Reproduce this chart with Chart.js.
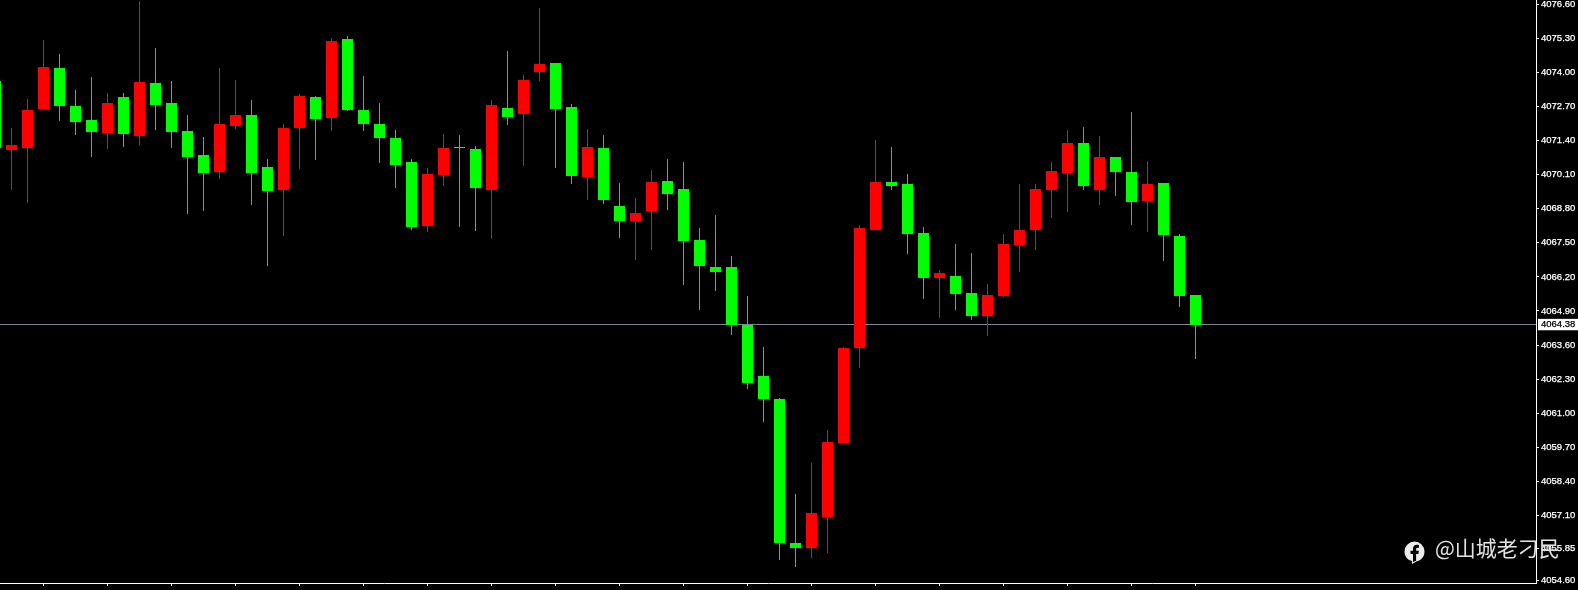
<!DOCTYPE html>
<html><head><meta charset="utf-8">
<style>
html,body{margin:0;padding:0;background:#000;width:1578px;height:590px;overflow:hidden}
#wrap{position:relative;width:1578px;height:590px}
canvas{display:block}
#mark{position:absolute;left:1435px;top:532px;font:400 21px "Noto Sans CJK SC";color:#e2e2e2;white-space:nowrap;line-height:30px}
#fb{position:absolute;left:1404px;top:541px}
</style>
<script src="https://cdn.jsdelivr.net/npm/chart.js@4"></script>
</head><body><div id="wrap"><canvas id="c" width="1578" height="590"></canvas>
<svg id="fb" width="21" height="24" viewBox="0 0 21 24"><path fill="#ececec" d="M10.5 0.5a10 10 0 0 1 10 10c0 5-3 8.700-7.500 9.800l-5 2.700v-2.900C3.200 19 0.500 15.200 0.500 10.500a10 10 0 0 1 10-10z"/><path fill="#000" d="M9 21v-8H6.500V9.800H9V7.700C9 5 10.600 3.700 13 3.700l2 .2v2.800h-1.400c-1.100 0-1.500.6-1.500 1.500v1.600h2.800l-.5 3.200h-2.300v6.800z"/></svg>
<div id="mark">@山城老刁民</div></div>
<script>
const opens=[4073.68,4071.06,4071.13,4072.61,4074.17,4072.72,4072.19,4071.69,4073.07,4071.58,4073.60,4072.84,4071.77,4070.85,4070.20,4071.96,4072.38,4070.40,4069.52,4071.88,4073.07,4072.27,4075.28,4072.57,4072.04,4071.50,4070.59,4068.14,4070.09,4071.16,4071.08,4069.52,4072.65,4072.42,4074.02,4074.37,4072.69,4070.01,4071.12,4068.91,4068.34,4068.72,4069.86,4069.56,4067.61,4066.58,4066.58,4064.37,4062.42,4061.54,4056.05,4055.85,4057.04,4059.86,4063.49,4067.99,4069.82,4069.75,4067.88,4066.16,4066.24,4065.59,4064.71,4065.47,4067.42,4067.99,4069.52,4070.17,4071.31,4069.52,4070.78,4070.20,4069.10,4069.79,4067.76,4065.51];
const highs=[4073.68,4071.88,4072.99,4075.24,4074.71,4073.33,4073.83,4073.22,4073.22,4076.73,4074.94,4073.68,4072.38,4071.54,4074.17,4073.72,4072.95,4070.70,4072.04,4073.18,4073.11,4075.32,4075.40,4073.87,4072.84,4071.81,4070.70,4070.36,4071.66,4071.62,4071.20,4072.95,4074.82,4073.91,4076.46,4074.37,4072.80,4071.85,4071.62,4069.79,4069.21,4070.28,4070.70,4070.59,4068.07,4068.56,4067.00,4065.47,4063.53,4061.58,4057.92,4059.10,4060.36,4063.53,4068.18,4071.43,4071.16,4070.13,4068.11,4066.47,4067.46,4067.11,4065.93,4067.84,4069.75,4069.75,4070.59,4071.81,4071.92,4071.58,4070.78,4072.50,4070.63,4069.79,4067.84,4065.51];
const lows=[4071.13,4069.52,4069.02,4072.61,4072.15,4071.62,4070.78,4071.08,4071.16,4071.24,4071.81,4071.12,4068.60,4068.72,4069.94,4071.85,4068.95,4066.62,4067.76,4070.32,4070.66,4071.77,4072.53,4071.77,4070.55,4069.59,4067.99,4067.91,4069.67,4068.11,4067.95,4067.65,4072.00,4070.43,4073.68,4070.36,4069.75,4069.14,4068.98,4067.69,4066.85,4067.23,4068.76,4065.89,4064.94,4065.66,4063.98,4061.92,4060.66,4055.40,4055.13,4055.47,4055.66,4059.86,4062.72,4067.99,4069.52,4067.08,4065.36,4064.63,4064.94,4064.56,4063.95,4065.43,4066.39,4067.23,4068.45,4068.68,4069.52,4068.95,4069.29,4068.18,4067.91,4066.81,4065.05,4063.07];
const closes=[4071.13,4071.23,4072.57,4074.21,4072.72,4072.11,4071.73,4072.84,4071.66,4073.64,4072.76,4071.73,4070.78,4070.17,4072.04,4072.38,4070.17,4069.48,4071.88,4073.11,4072.23,4075.21,4072.57,4072.04,4071.50,4070.47,4068.11,4070.13,4071.12,4071.12,4069.59,4072.76,4072.30,4073.72,4074.33,4072.61,4070.05,4071.16,4069.14,4068.34,4068.64,4069.82,4069.37,4067.57,4066.62,4066.39,4064.37,4062.15,4061.54,4056.05,4055.85,4057.19,4059.90,4063.49,4068.07,4069.82,4069.67,4067.84,4066.16,4066.35,4065.55,4064.71,4065.51,4067.46,4067.99,4069.56,4070.24,4071.31,4069.67,4070.78,4070.20,4069.06,4069.75,4067.80,4065.47,4064.38];
const bidPrice=4064.38;
const priceTicks=[4076.60,4075.30,4074.00,4072.70,4071.40,4070.10,4068.80,4067.50,4066.20,4064.90,4064.38,4063.60,4062.30,4061.00,4059.70,4058.40,4057.10,4055.85,4054.60];
const timeTickIndex=[-1.0,3,7,11,15,19,23,27,31,35,39,43,47,51,55,59,63,67,71,75];
const timeTickLabels=["21 Nov 2025","21 Nov     14:24","21 Nov     14:32","21 Nov     14:40","21 Nov     14:48","21 Nov     14:56","21 Nov     15:04","21 Nov     15:12","21 Nov     15:20","21 Nov     15:28","21 Nov     15:36","21 Nov     15:44","21 Nov     15:52","21 Nov     16:00","21 Nov     16:08","21 Nov     16:16","21 Nov     16:24","21 Nov     16:32","21 Nov     16:40","21 Nov     16:48"];
const UP='#ff0000',DOWN='#00ff00',WICK_UP='#e01414',WICK_DOWN='#28d828';
const isUp=i=>closes[i]>=opens[i];
const noMargins=s=>{s.paddingLeft=s.paddingRight=s.paddingTop=s.paddingBottom=0;s._margins={left:0,right:0,top:0,bottom:0}};
const snap={id:'snap',beforeDatasetsDraw(chart){
  chart.data.datasets.forEach((d,di)=>{
    const m=chart.getDatasetMeta(di);
    if(d.type==='line'){m.data.forEach(p=>{p.y=Math.floor(p.y)+.5});return;}
    m.data.forEach(el=>{
      let a=Math.round(el.y),b=Math.round(el.base);
      if(a===b)b=a+1;
      el.y=a;el.base=b;
    });
  });
}};
new Chart(document.getElementById('c'),{
  data:{datasets:[
    {type:'bar',order:1,grouped:false,barThickness:11,inflateAmount:0,borderWidth:0,
     data:opens.map((o,i)=>({x:i,y:[o,closes[i]]})),
     backgroundColor:opens.map((o,i)=>isUp(i)?UP:DOWN)},
    {type:'bar',order:2,grouped:false,barThickness:1,inflateAmount:0,borderWidth:0,
     data:lows.map((l,i)=>({x:i,y:[l,highs[i]]})),
     backgroundColor:opens.map((o,i)=>isUp(i)?WICK_UP:WICK_DOWN)},
    {type:'line',order:3,borderColor:'#778899',borderWidth:1,pointRadius:0,
     data:[{x:0.28125,y:bidPrice},{x:96.28125,y:bidPrice}]}
  ]},
  plugins:[snap],
  options:{
    responsive:false,animation:false,
    layout:{padding:0},
    plugins:{legend:{display:false},tooltip:{enabled:false}},
    scales:{
      x:{type:'linear',offset:false,min:0.28125,max:96.28125,
        afterBuildTicks(s){s.ticks=timeTickIndex.map(v=>({value:v}))},
        afterFit(s){s.height=7;noMargins(s)},
        border:{color:'#fff',width:1},
        grid:{offset:false,drawOnChartArea:false,drawTicks:true,tickLength:3,tickColor:'#fff'},
        ticks:{autoSkip:false,maxRotation:0,minRotation:0,align:'start',padding:1.7,color:'#fff',
          font:{family:'Liberation Sans',size:9.5},
          callback(v,i){return timeTickLabels[i]}}
      },
      y:{type:'linear',position:'right',min:4054.516,max:4076.768,
        afterBuildTicks(s){s.ticks=priceTicks.map(v=>({value:v}))},
        afterFit(s){s.width=42;noMargins(s)},
        border:{color:'#fff',width:1},
        grid:{drawOnChartArea:false,drawTicks:true,tickLength:3,
          tickColor:c=>c.tick&&c.tick.value===bidPrice?'rgba(0,0,0,0)':'#fff'},
        ticks:{autoSkip:false,padding:2,align:'center',crossAlign:'near',
          color:c=>c.tick&&c.tick.value===bidPrice?'#000':'#fff',
          textStrokeColor:c=>c.tick&&c.tick.value===bidPrice?'#000':'#fff',textStrokeWidth:0.25,
          font:{family:'Liberation Sans',size:9.5},
          showLabelBackdrop:c=>!!(c.tick&&c.tick.value===bidPrice),
          backdropColor:'#fff',backdropPadding:{left:3,right:6,top:0,bottom:0},
          callback(v){return v.toFixed(2)}}
      }
    }
  }
});
</script></body></html>
